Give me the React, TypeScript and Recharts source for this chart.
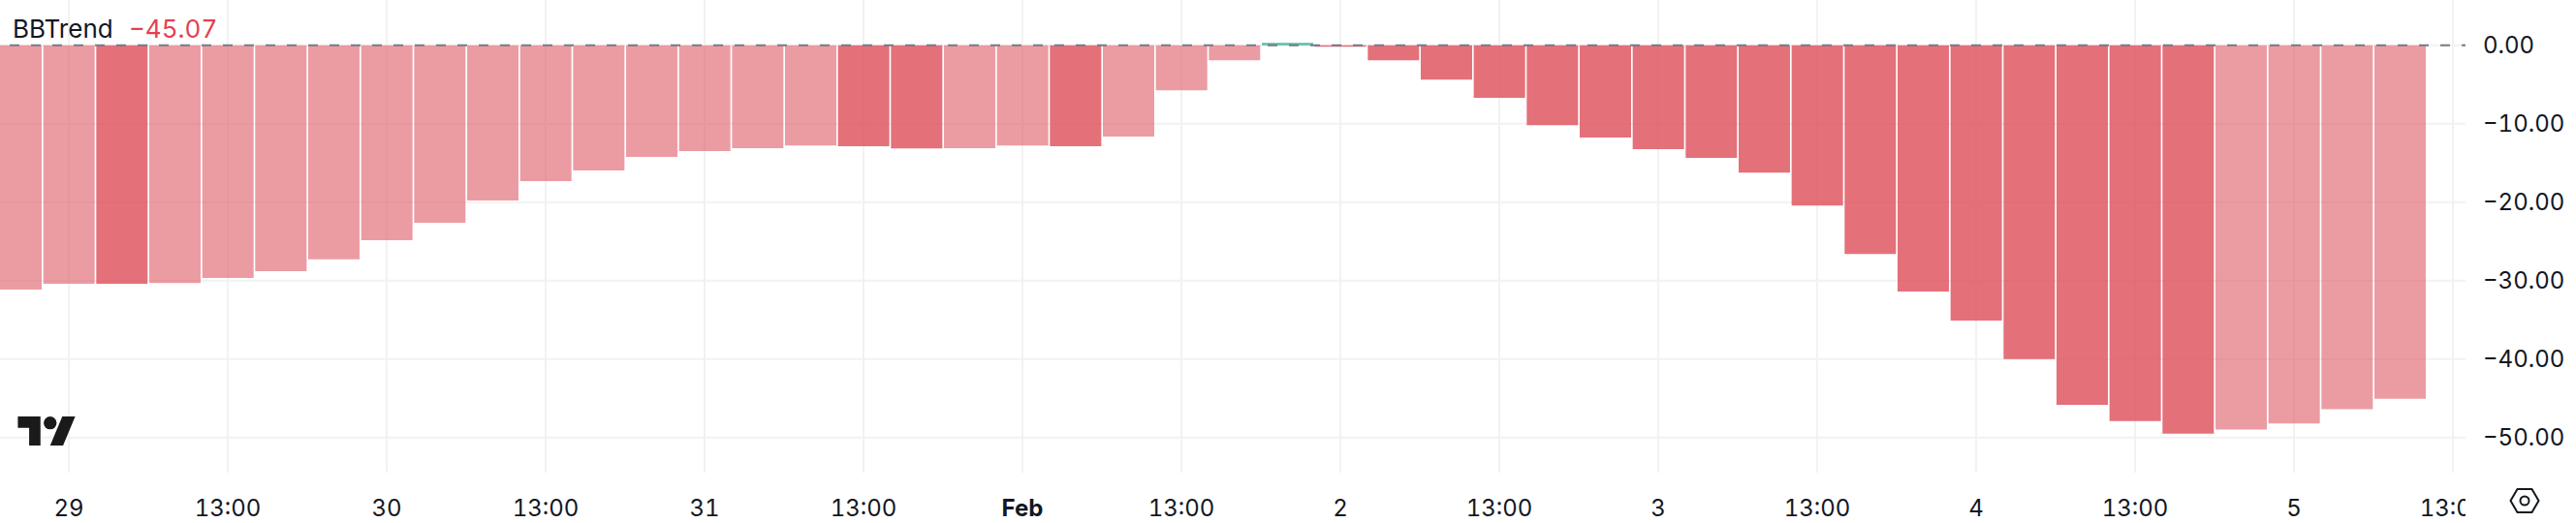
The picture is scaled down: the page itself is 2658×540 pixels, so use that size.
import { BarChart, Bar, Cell, XAxis, YAxis, CartesianGrid, ReferenceLine } from "recharts";

// 4h bars, the first one starts just before the "29" tick
const trendValues = [
  -31.14, -30.4, -30.42, -30.3, -29.65, -28.8, -27.3, -24.85, -22.64, -19.8, -17.33, -15.97,
  -14.23, -13.5, -13.13, -12.79, -12.87, -13.14, -13.12, -12.79, -12.87, -11.64, -5.73, -1.91,
  0.3, -0.2, -1.91, -4.38, -6.71, -10.2, -11.77, -13.25, -14.36, -16.23, -20.43, -26.6,
  -31.4, -35.1, -40.0, -45.84, -47.9, -49.5, -49.0, -48.2, -46.4, -45.07,
];
const xTickLabels = [
  "29", "13:00", "30", "13:00", "31", "13:00", "Feb", "13:00",
  "2", "13:00", "3", "13:00", "4", "13:00", "5", "13:00",
];
const yTicks = [0, -10, -20, -30, -40, -50];

const font = "Inter, sans-serif";
const ink = "#131722";

const data = trendValues.map((value, i) => ({ slot: i - 1, value }));
const xTicks = xTickLabels.map((_, i) => i * 3);

function barColor(value: number, i: number) {
  if (value >= 0) return "#22ab94";
  if (i > 0 && value < trendValues[i - 1]) return "#dd4c59";
  return "#de5a66";
}

function barOpacity(value: number, i: number) {
  if (value >= 0) return 0.75;
  return i > 0 && value < trendValues[i - 1] ? 0.8 : 0.6;
}

function formatY(v: number) {
  return v < 0 ? `\u2212${Math.abs(v).toFixed(2)}` : v.toFixed(2);
}

function TimeTick({ x, y, payload }: any) {
  const label = xTickLabels[payload.value / 3];
  return (
    <g clipPath="url(#time-axis-clip)">
      <clipPath id="time-axis-clip">
        <rect x={0} y={488} width={2544} height={52} />
      </clipPath>
      <text
        x={x}
        y={y + 37}
        textAnchor="middle"
        fontFamily={font}
        fontSize={24}
        fontWeight={label === "Feb" ? 700 : 400}
        fill={ink}
      >
        {label}
      </text>
    </g>
  );
}

export default function App() {
  return (
    <div
      style={{
        position: "absolute",
        left: 0,
        top: 0,
        width: 2658,
        height: 540,
        fontFamily: font,
        fontVariantNumeric: "tabular-nums",
      }}
    >
      <BarChart width={2658} height={540} data={data} margin={{ top: 0, right: 0, bottom: 0, left: 0 }} barCategoryGap={0}>
        <CartesianGrid stroke="#f2f2f3" strokeWidth={2} horizontalValues={yTicks} verticalValues={xTicks} />
        <XAxis
          dataKey="slot"
          type="number"
          domain={[-1.2988, 45.238]}
          allowDataOverflow
          ticks={xTicks}
          interval={0}
          height={52}
          axisLine={false}
          tickLine={false}
          tick={<TimeTick />}
        />
        <YAxis
          orientation="right"
          domain={[-54.48, 5.77]}
          allowDataOverflow
          ticks={yTicks}
          interval={0}
          width={114}
          axisLine={false}
          tickLine={false}
          tickMargin={12}
          tickFormatter={formatY}
          tick={{ fontSize: 24, fontFamily: font, fill: ink }}
        />
        <Bar dataKey="value" barSize={53} isAnimationActive={false}>
          {trendValues.map((value, i) => (
            <Cell key={i} fill={barColor(value, i)} fillOpacity={barOpacity(value, i)} />
          ))}
        </Bar>
        <ReferenceLine y={0} stroke="#787b86" strokeWidth={2} strokeDasharray="10 12" strokeDashoffset={6} />
      </BarChart>

      <div style={{ position: "absolute", left: 13, top: 14, fontSize: 26, lineHeight: "32px", color: ink, whiteSpace: "nowrap" }}>
        BBTrend
        <span style={{ position: "absolute", left: 120, top: 0, color: "#e5404f" }}>{"\u221245.07"}</span>
      </div>

      <svg style={{ position: "absolute", left: 18, top: 430 }} width={60} height={30} viewBox="0 4 35.5 18">
        <path d="M14 22H7V11H0V4h14v18zM28 22h-8l7.5-18h8L28 22z" fill="#1a1a1a" />
        <circle cx={20} cy={8} r={4} fill="#1a1a1a" />
      </svg>

      <svg style={{ position: "absolute", left: 2589, top: 503 }} width={32} height={28} viewBox="0 0 32 28" fill="none" stroke={ink} strokeWidth={2}>
        <path d="M1.5 14L8.5 2H23.5L30.5 14L23.5 26H8.5Z" strokeLinejoin="round" />
        <circle cx={16} cy={14} r={4.5} />
      </svg>
    </div>
  );
}
